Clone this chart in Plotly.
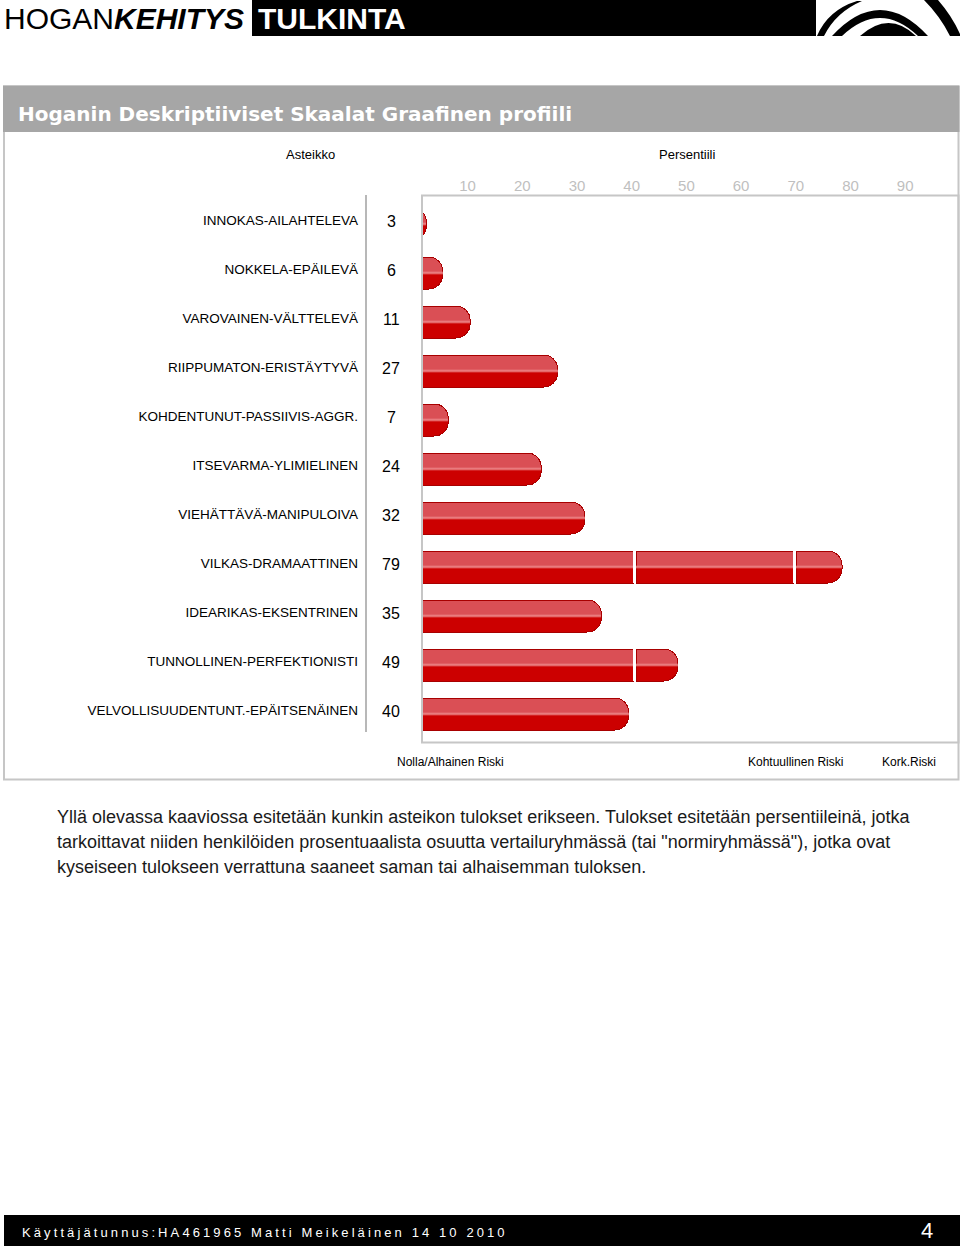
import plotly.graph_objects as go

# ---------------- data ----------------
SCALES = [
    "INNOKAS-AILAHTELEVA",
    "NOKKELA-EPÄILEVÄ",
    "VAROVAINEN-VÄLTTELEVÄ",
    "RIIPPUMATON-ERISTÄYTYVÄ",
    "KOHDENTUNUT-PASSIIVIS-AGGR.",
    "ITSEVARMA-YLIMIELINEN",
    "VIEHÄTTÄVÄ-MANIPULOIVA",
    "VILKAS-DRAMAATTINEN",
    "IDEARIKAS-EKSENTRINEN",
    "TUNNOLLINEN-PERFEKTIONISTI",
    "VELVOLLISUUDENTUNT.-EPÄITSENÄINEN",
]
SCORES = [3, 6, 11, 27, 7, 24, 32, 79, 35, 49, 40]
TICK_VALUES = [10, 20, 30, 40, 50, 60, 70, 80, 90]
ZONE_EDGES = [40.8, 70.1]      # risk-zone boundaries (percentile)
ZONE_GAP = 0.55
ZONE_LABELS = ["Nolla/Alhainen Riski", "Kohtuullinen Riski", "Kork.Riski"]
PARAGRAPH = [
    "Yllä olevassa kaaviossa esitetään kunkin asteikon tulokset erikseen. Tulokset esitetään persentiileinä, jotka",
    "tarkoittavat niiden henkilöiden prosentuaalista osuutta vertailuryhmässä (tai \"normiryhmässä\"), jotka ovat",
    "kyseiseen tulokseen verrattuna saaneet saman tai alhaisemman tuloksen.",
]
TITLE = "Hoganin Deskriptiiviset Skaalat Graafinen profiili"
FOOTER = "Käyttäjätunnus:HA461965 Matti Meikeläinen 14 10 2010"
PAGE = "4"

# ---------------- layout geometry ----------------
W, H = 960, 1246
PL, PR, PT, PB = 422, 958, 191, 743
ROW_PX, BAR_PX = 49, 32
FIRST_ROW_PX = 224
X0_PX, X_UNIT = 409.9, 5.47
FONT = "Liberation Sans, Arial, sans-serif"
WIDE_FONT = "DejaVu Sans, Verdana, sans-serif"

def xp(px):
    return (px - PL) / (PR - PL)

def yp(py):
    return (PB - py) / (PB - PT)

def path(points_cmds):
    out = []
    for item in points_cmds:
        if isinstance(item, str):
            out.append(item)
        else:
            out.append(f"{xp(item[0]):.5f},{yp(item[1]):.5f}")
    return " ".join(out)

def nz(v):
    return v if v > 0 else None

rows = list(range(len(SCALES)))
e1, e2 = ZONE_EDGES
seg1 = [nz(min(v, e1)) for v in SCORES]
gap1 = [nz(min(max(v - e1, 0), ZONE_GAP)) for v in SCORES]
seg2 = [nz(min(max(v - (e1 + ZONE_GAP), 0), e2 - (e1 + ZONE_GAP))) for v in SCORES]
gap2 = [nz(min(max(v - e2, 0), ZONE_GAP)) for v in SCORES]
seg3 = [nz(max(v - (e2 + ZONE_GAP), 0)) for v in SCORES]

bar_w = BAR_PX / ROW_PX
pattern = dict(shape="-", fillmode="overlay", fgcolor="#DA4F55", fgopacity=1,
               size=ROW_PX, solidity=17 / ROW_PX)
mid_pattern = dict(shape="-", fillmode="overlay", fgcolor="#EE8A8C", fgopacity=1,
                   size=ROW_PX, solidity=2 / ROW_PX)

fig = go.Figure()
stack = [(seg1, False), (gap1, True), (seg2, False), (gap2, True), (seg3, False)]
for vals, is_gap in stack:
    if is_gap:
        marker = dict(color="white", line=dict(width=0))
    else:
        marker = dict(color="#CC0000", line=dict(color="#A80000", width=1), pattern=pattern)
    fig.add_trace(go.Bar(x=vals, y=rows, orientation="h", width=bar_w, marker=marker,
                         hoverinfo="skip", showlegend=False))
# highlight line along the middle of each bar (separate subplot so the stripe sits at bar centre)
for vals, is_gap in stack:
    if is_gap:
        marker = dict(color="rgba(0,0,0,0)", line=dict(width=0))
    else:
        marker = dict(color="rgba(0,0,0,0)", line=dict(width=0), pattern=mid_pattern)
    fig.add_trace(go.Bar(x=vals, y=rows, orientation="h", width=bar_w, marker=marker,
                         xaxis="x2", yaxis="y3", hoverinfo="skip", showlegend=False))

y_top = -(FIRST_ROW_PX - PT) / ROW_PX
y_bot = y_top + (PB - PT) / ROW_PX
MID_TOP = FIRST_ROW_PX - ROW_PX / 2          # plot-area top of the highlight subplot
y3_top = -(FIRST_ROW_PX - MID_TOP) / ROW_PX
y3_bot = y3_top + (PB - MID_TOP) / ROW_PX

shapes = []
gray = "#C6C6C6"
# outer box
shapes.append(dict(type="rect", xref="paper", yref="paper", x0=xp(4), x1=xp(958.5), y0=yp(86), y1=yp(779.5),
                   line=dict(color=gray, width=2), fillcolor="rgba(0,0,0,0)"))
# title band
shapes.append(dict(type="rect", xref="paper", yref="paper", x0=xp(3), x1=xp(959.5), y0=yp(86), y1=yp(132),
                   line=dict(width=0), fillcolor="#A6A6A6"))
# plot frame
shapes.append(dict(type="rect", xref="paper", yref="paper", x0=xp(422), x1=xp(958.5), y0=yp(195.5), y1=yp(742.5),
                   line=dict(color=gray, width=2), fillcolor="rgba(0,0,0,0)"))
# separator line left of the scores
shapes.append(dict(type="line", xref="paper", yref="paper", x0=xp(366), x1=xp(366), y0=yp(195), y1=yp(732),
                   line=dict(color="#B8B8B8", width=2)))
# header black bar
shapes.append(dict(type="rect", xref="paper", yref="paper", x0=xp(252), x1=xp(816), y0=yp(0), y1=yp(36),
                   line=dict(width=0), fillcolor="black"))
# logo
logo_paths = [
    ["M", (817, 36), "Q", (828, 10), (857, 1), "L", (862, 1), "Q", (836, 12), (824, 36), "Z"],
    ["M", (832, 36), "Q", (880, -16), (928, 36), "L", (918, 36), "Q", (880, 0), (842, 36), "Z"],
    ["M", (860, 36), "Q", (889, 10), (916, 36), "Z"],
    ["M", (924, 0), "L", (938, 0), "Q", (952, 16), (960, 34), "L", (960, 36), "L", (950, 36), "Q", (940, 16), (924, 0), "Z"],
]
for p in logo_paths:
    shapes.append(dict(type="path", xref="paper", yref="paper", path=path(p),
                       fillcolor="black", line=dict(width=0)))
# footer band
shapes.append(dict(type="rect", xref="paper", yref="paper", x0=xp(4), x1=xp(960), y0=yp(1215), y1=yp(1246),
                   line=dict(width=0), fillcolor="black"))

ann = []
def text(s, x, y, size, color="black", xanchor="left", bold=False, family=FONT, **kw):
    ann.append(dict(text=s, x=xp(x), y=yp(y), xref="paper", yref="paper", xanchor=xanchor,
                    yanchor="middle", showarrow=False,
                    font=dict(family=family, size=size, color=color,
                              weight="bold" if bold else "normal"), **kw))

text("HOGAN<b><i>KEHITYS</i></b>", 2, 18, 30)
text("TULKINTA", 256, 18, 30, color="white", bold=True)
text(TITLE, 16, 114, 20, color="white", bold=True, family=WIDE_FONT)
text("Asteikko", 310, 155, 13, xanchor="center")
text("Persentiili", 687, 155, 13, xanchor="center")
for lbl, cx in zip(ZONE_LABELS, [450, 795.5, 908.5]):
    text(lbl, cx, 762, 12, xanchor="center")
for i, line in enumerate(PARAGRAPH):
    text(line, 55, 817 + 25 * i, 18, color="#1a1a1a")
text(f'<span style="letter-spacing:3.1px">{FOOTER}</span>', 20, 1232, 13, color="white")
text(PAGE, 927, 1230, 22, color="white", xanchor="center")

for r, s in zip(rows, SCORES):
    ann.append(dict(text=str(s), x=xp(391), y=r, xref="paper", yref="y", xanchor="center",
                    yanchor="middle", yshift=3, showarrow=False,
                    font=dict(family=FONT, size=16, color="black")))

x_range = [(PL - X0_PX) / X_UNIT, (PR - X0_PX) / X_UNIT]
fig.update_layout(
    width=W, height=H,
    margin=dict(l=PL, r=W - PR, t=PT, b=H - PB, pad=0),
    paper_bgcolor="white", plot_bgcolor="rgba(0,0,0,0)",
    barmode="stack", barcornerradius=14,
    showlegend=False, hovermode=False,
    font=dict(family=FONT),
    shapes=shapes, annotations=ann,
    xaxis=dict(side="top", range=x_range,
               tickvals=TICK_VALUES, ticks="", showgrid=False, zeroline=False, showline=False,
               tickfont=dict(family=FONT, size=15, color="#BFBFBF"),
               ticklabelstandoff=-4, ticklabelshift=3),
    yaxis=dict(range=[y_bot, y_top], tickvals=rows, ticktext=SCALES, ticks="",
               showgrid=False, zeroline=False, showline=False,
               tickfont=dict(family=FONT, size=13.5, color="black"),
               ticklabelstandoff=63, ticklabelshift=4),
    xaxis2=dict(domain=[0, 1], range=x_range, anchor="y3", visible=False),
    yaxis3=dict(domain=[0, (PB - MID_TOP) / (PB - PT)], range=[y3_bot, y3_top],
                anchor="x2", visible=False),
)

fig.write_html("out.html")
